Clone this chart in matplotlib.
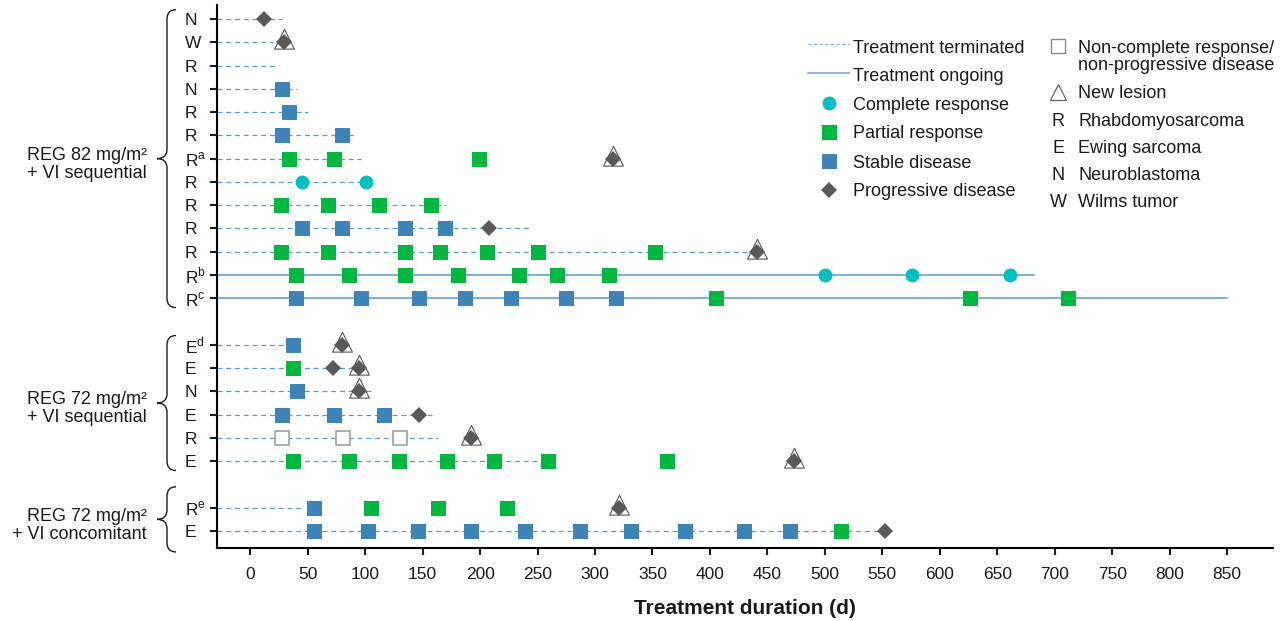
import matplotlib.pyplot as plt
from matplotlib.path import Path
from matplotlib.patches import PathPatch
from matplotlib.transforms import blended_transform_factory

INK = "#1a1a1a"
CR_C, PR_C, SD_C, PD_C = "#00c0c0", "#00b83d", "#3d84b8", "#595959"
LINE_C = "#5a98d0"

plt.rcParams.update({
    "font.family": ["Liberation Sans", "DejaVu Sans"],
    "text.color": INK, "axes.labelcolor": INK,
    "xtick.color": INK, "ytick.color": INK,
})

# one entry per patient, top to bottom
labels = ["N", "W", "R", "N", "R", "R", r"R$^\mathregular{a}$", "R", "R", "R", "R",
          r"R$^\mathregular{b}$", r"R$^\mathregular{c}$",
          r"E$^\mathregular{d}$", "E", "N", "E", "R", "E",
          r"R$^\mathregular{e}$", "E"]
group_sizes = [13, 6, 2]
group_names = [("REG 82 mg/m²", "+ VI sequential"),
               ("REG 72 mg/m²", "+ VI sequential"),
               ("REG 72 mg/m²", "+ VI concomitant")]
end_day = [28, 20, 22, 41, 50, 90, 96, 101, 170, 245, 441, 682, 850,
           37, 95, 106, 159, 163, 267, 44, 552]
ongoing = [False] * 11 + [True, True] + [False] * 8

complete = [[], [], [], [], [], [], [], [45, 101], [], [], [], [500, 576, 661], [],
            [], [], [], [], [], [], [], []]
partial = [[], [], [], [], [], [], [34, 73, 199], [], [27, 68, 112, 157], [],
           [27, 68, 135, 165, 206, 250, 352], [40, 86, 135, 181, 234, 267, 312],
           [405, 626, 712],
           [], [37], [], [], [], [37, 86, 129, 171, 212, 259, 363],
           [105, 163, 223], [514]]
stable = [[], [], [], [28], [34], [28, 80], [], [], [], [45, 80, 135, 169], [], [],
          [40, 96, 147, 187, 227, 275, 318],
          [37], [], [41], [28, 73, 116], [], [],
          [55], [55, 102, 146, 192, 239, 287, 331, 378, 430, 470]]
progressive = [[12], [29], [], [], [], [], [316], [], [], [208], [441], [], [],
               [80], [72, 95], [95], [147], [192], [473],
               [321], [552]]
new_lesion = [[], [29], [], [], [], [], [316], [], [], [], [441], [], [],
              [80], [95], [95], [], [192], [473],
              [321], []]
non_cr = [[], [], [], [], [], [], [], [], [], [], [], [], [],
          [], [], [], [], [28, 81, 130], [],
          [], []]

x_ticks = list(range(0, 851, 50))
X_MIN, X_MAX = -29, 890

# triangle centred on its centroid, so it sits behind the diamond like the original
TRI = Path([(0, 2), (-1.5, -1), (1.5, -1), (0, 2)], closed=True)

fig = plt.figure(figsize=(12.87, 6.21), dpi=100)
ax = fig.add_axes([217 / 1287, 73 / 621, 1056 / 1287, 543 / 621])

# row positions: one blank row between groups
ys, pos = [], 0
for n in group_sizes:
    ys += list(range(pos, pos + n))
    pos += n + 1

for i, y in enumerate(ys):
    if ongoing[i]:
        ax.plot([X_MIN, end_day[i]], [y, y], color=LINE_C, lw=1.1, zorder=1)
    else:
        ax.plot([X_MIN, end_day[i]], [y, y], color=LINE_C, lw=0.9,
                ls=(0, (4, 3)), zorder=1)
    ax.plot(new_lesion[i], [y] * len(new_lesion[i]), ls="none", marker=TRI, ms=19,
            mfc="white", mec="#555555", mew=0.8, zorder=3)
    ax.plot(progressive[i], [y] * len(progressive[i]), ls="none", marker="D", ms=8.5,
            color=PD_C, mew=0, zorder=4)
    ax.plot(stable[i], [y] * len(stable[i]), ls="none", marker="s", ms=10.8,
            color=SD_C, mew=0, zorder=4)
    ax.plot(partial[i], [y] * len(partial[i]), ls="none", marker="s", ms=10.8,
            color=PR_C, mew=0, zorder=4)
    ax.plot(complete[i], [y] * len(complete[i]), ls="none", marker="o", ms=10,
            color=CR_C, mew=0, zorder=4)
    ax.plot(non_cr[i], [y] * len(non_cr[i]), ls="none", marker="s", ms=9.8,
            mfc="white", mec="#999999", mew=1.1, zorder=4)

ax.set_xlim(X_MIN, X_MAX)
ax.set_ylim(ys[-1] + 0.73, -0.6)
ax.set_xticks(x_ticks)
ax.set_yticks(ys)
ax.set_yticklabels(labels, fontsize=12.5)
for t in ax.get_yticklabels():
    t.set_ha("left")
ax.tick_params(axis="y", length=5, width=1.5, pad=18)
ax.tick_params(axis="x", length=5, width=1.5, pad=9, labelsize=12.5)
for s in ("top", "right"):
    ax.spines[s].set_visible(False)
for s in ("left", "bottom"):
    ax.spines[s].set_linewidth(1.5)
ax.set_xlabel("Treatment duration (d)", fontsize=15, weight="bold", labelpad=12)

# braces and group names, left of the tick labels
tr = blended_transform_factory(ax.transAxes, ax.transData)
px = lambda p: (p - 217) / 1056
start = 0
for n, (l1, l2) in zip(group_sizes, group_names):
    top, bot = ys[start], ys[start + n - 1]
    mid = (top + bot) / 2
    half = max((bot - top) / 2 + 0.4, 1.4)
    yt, yb, r = mid - half, mid + half, 0.4
    xe, xb, xt = px(176), px(167), px(157)
    verts = [(xe, yt), (xb, yt), (xb, yt + r), (xb, mid - r), (xb, mid), (xt, mid),
             (xb, mid), (xb, mid + r), (xb, yb - r), (xb, yb), (xe, yb)]
    codes = [Path.MOVETO, Path.CURVE3, Path.CURVE3, Path.LINETO, Path.CURVE3,
             Path.CURVE3, Path.CURVE3, Path.CURVE3, Path.LINETO, Path.CURVE3,
             Path.CURVE3]
    ax.add_patch(PathPatch(Path(verts, codes), transform=tr, fill=False,
                           lw=1.0, color=INK, clip_on=False))
    ax.text(px(147), mid + 0.05, l1, transform=tr, ha="right", va="baseline",
            fontsize=13)
    ax.text(px(147), mid + 0.83, l2, transform=tr, ha="right", va="baseline",
            fontsize=13)
    start += n

# legend, drawn on a pixel-space overlay
lg = fig.add_axes([0, 0, 1, 1], zorder=5)
lg.set_xlim(0, 1287)
lg.set_ylim(621, 0)
lg.axis("off")
FS = 13
lg.plot([808, 849], [44, 44], color="#7fb0da", lw=0.9, ls=(0, (2.5, 2)))
lg.plot([808, 849], [73, 73], color="#6fa5d5", lw=1.1)
lg.plot(829, 103, marker="o", ms=10, color=CR_C, mew=0)
lg.plot(829, 132, marker="s", ms=10.8, color=PR_C, mew=0)
lg.plot(829, 161, marker="s", ms=10.8, color=SD_C, mew=0)
lg.plot(829, 190, marker="D", ms=8.5, color=PD_C, mew=0)
col1 = ["Treatment terminated", "Treatment ongoing", "Complete response",
        "Partial response", "Stable disease", "Progressive disease"]
for txt, yb in zip(col1, [52.7, 81, 109.5, 138.5, 167.5, 196.5]):
    lg.text(853, yb, txt, fontsize=FS, va="baseline")

lg.plot(1058, 46, marker="s", ms=10.5, mfc="white", mec="#888888", mew=1.0)
lg.plot(1058, 92, marker="^", ms=11.5, mfc="white", mec="#666666", mew=0.9)
lg.text(1078, 52.7, "Non-complete response/", fontsize=FS, va="baseline")
lg.text(1078, 70.5, "non-progressive disease", fontsize=FS, va="baseline")
lg.text(1078, 98.3, "New lesion", fontsize=FS, va="baseline")
col2 = [("R", "Rhabdomyosarcoma"), ("E", "Ewing sarcoma"),
        ("N", "Neuroblastoma"), ("W", "Wilms tumor")]
for (k, txt), yb in zip(col2, [125.5, 152.7, 180, 207.3]):
    lg.text(1058, yb, k, fontsize=FS, va="baseline", ha="center")
    lg.text(1078, yb, txt, fontsize=FS, va="baseline")

fig.savefig("out.png", dpi=100)
